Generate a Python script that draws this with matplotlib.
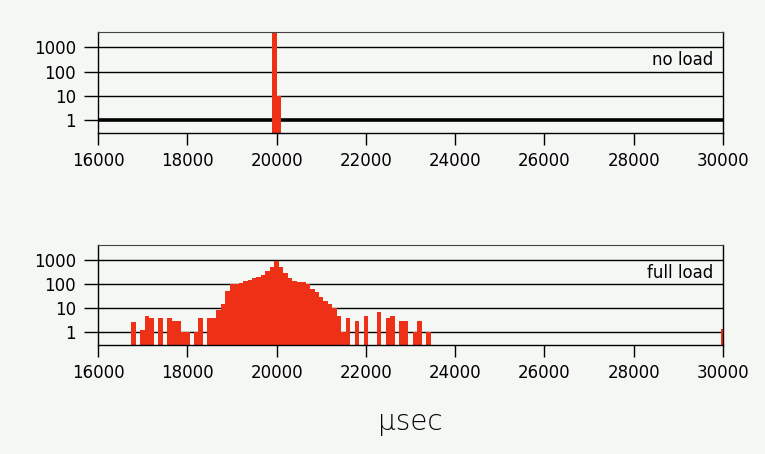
import numpy as np
import matplotlib
matplotlib.use("Agg")
import matplotlib.pyplot as plt

# histogram of loop period (usec), 100 usec bins, counts per bin
no_load_usec = [19950, 20050]
no_load_counts = [5000, 10]

full_load_usec = list(range(16800, 23500, 100)) + [30000]
full_load_counts = [
    2.7, 0, 1.2, 4.5, 4, 0, 4, 0, 4, 3,          # 16800 - 17700
    3, 1, 1, 0, 1, 4, 0, 4, 4, 8,                # 17800 - 18700
    15, 50, 100, 100, 110, 130, 150, 180, 200, 250,   # 18800 - 19700
    350, 500, 950, 500, 300, 180, 130, 120, 120, 100,  # 19800 - 20700
    60, 45, 30, 20, 15, 10, 4.5, 1, 4, 0,        # 20800 - 21700
    3, 0, 4.5, 0, 0, 7, 0, 4, 4.5, 0,            # 21800 - 22700
    3, 3, 0, 1, 3, 0, 1,                         # 22800 - 23400
    1.3,                                         # 30000
]

x_ticks = [16000, 18000, 20000, 22000, 24000, 26000, 28000, 30000]
y_ticks = [1, 10, 100, 1000]
y_labels = ["1", "10", "100", "1000"]

BAR_RED = "#ee3016"
BG = "#f5f7f5"

plt.rcParams["font.family"] = "DejaVu Sans"

fig = plt.figure(figsize=(7.65, 4.54), dpi=100, facecolor=BG)


def histo_panel(rect, usec, counts, label, thick_one=False):
    ax = fig.add_axes(rect)
    ax.set_facecolor(BG)
    ax.set_yscale("log")
    ax.set_xlim(16000, 30000)
    ax.set_ylim(0.29, 4300)

    for y in y_ticks:
        lw = 2.6 if (thick_one and y == 1) else 1.0
        ax.axhline(y, color="black", lw=lw, zorder=1)

    usec = np.asarray(usec, dtype=float)
    counts = np.asarray(counts, dtype=float)
    keep = counts > 0
    ax.bar(usec[keep], counts[keep], width=100, bottom=0.01,
           color=BAR_RED, linewidth=0, zorder=2)

    ax.set_xticks(x_ticks)
    ax.set_xticklabels([str(t) for t in x_ticks])
    ax.set_yticks(y_ticks)
    ax.set_yticklabels(y_labels)
    ax.minorticks_off()
    ax.tick_params(axis="x", length=8.6, width=1.0, pad=5, labelsize=12)
    ax.tick_params(axis="y", length=10, width=1.0, pad=6, labelsize=12)

    for side in ["left", "bottom", "right"]:
        ax.spines[side].set_linewidth(1.0)
    ax.spines["top"].set_linewidth(0.8)
    ax.spines["top"].set_color("#444444")

    ax.text(0.985, 0.72, label, transform=ax.transAxes, ha="right", va="center",
            fontsize=12, zorder=4,
            bbox=dict(facecolor=BG, edgecolor="none", pad=0.3))
    return ax


histo_panel([98 / 765, 1 - 133 / 454, 625 / 765, 101 / 454],
            no_load_usec, no_load_counts, "no load", thick_one=True)
histo_panel([98 / 765, 1 - 345 / 454, 625 / 765, 100 / 454],
            full_load_usec, full_load_counts, "full load")

fig.text(410 / 765, 1 - 422 / 454, "µsec", ha="center", va="center",
         fontsize=20, fontweight="light")

fig.savefig("out.png", dpi=100, facecolor=BG)
